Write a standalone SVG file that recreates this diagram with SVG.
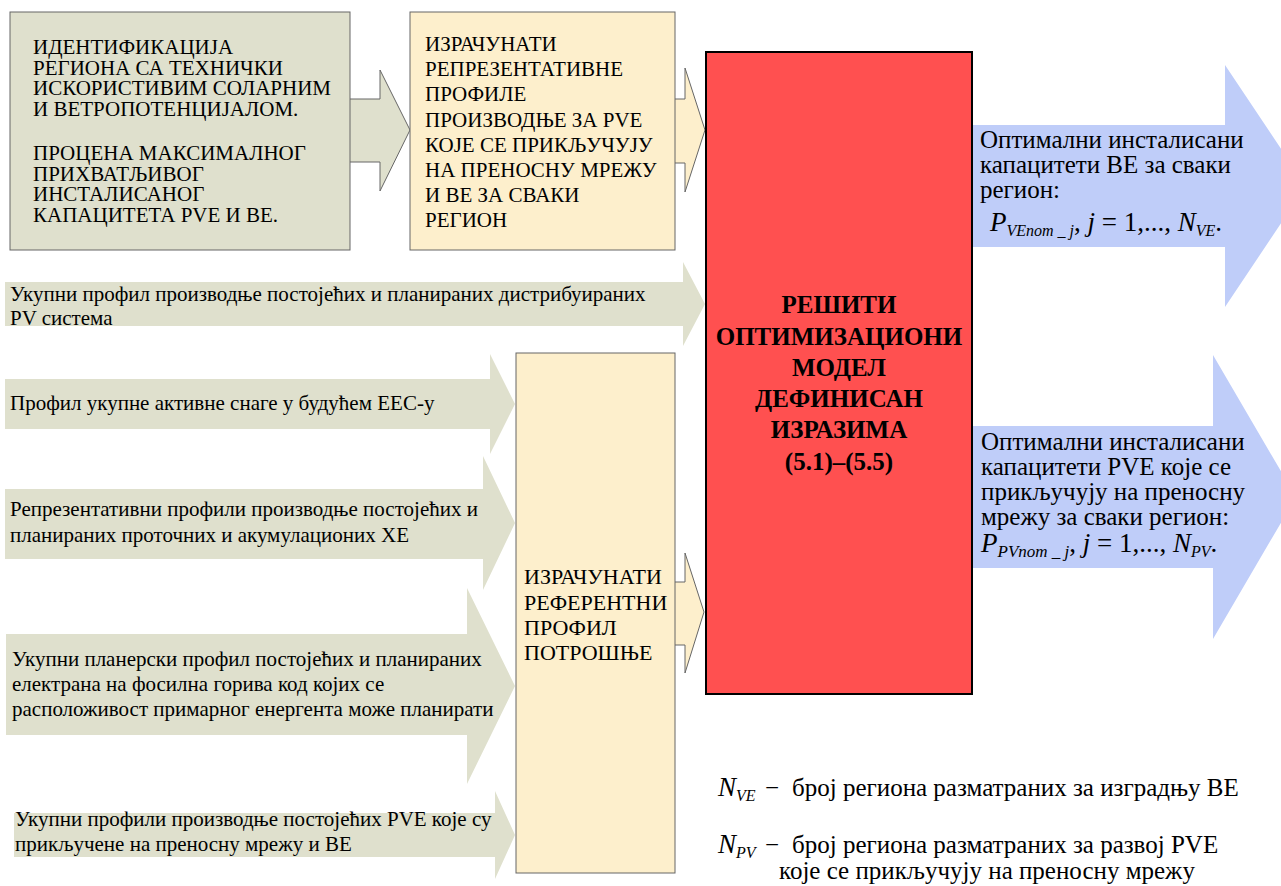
<svg xmlns="http://www.w3.org/2000/svg" width="1281" height="886" viewBox="0 0 1281 886">
<style>
text{font-family:'Liberation Serif','DejaVu Serif',serif;fill:#000}
.t21{font-size:21px}
.t22{font-size:22px}
.t25{font-size:25px}
.bold{font-size:25px;font-weight:bold}
.gray{fill:#dfe0cd}
.beige{fill:#fdefcc}
.blue{fill:#bfcdf9}
.edge{fill:none;stroke:#666;stroke-width:1}
.it{font-style:italic}
</style>
<g font-family="Liberation Serif, DejaVu Serif, serif">
<g id="connectors">
<g id="arrow-pv-dist"><polygon class="gray" points="5,282 683,282 683,262 705,304 683,346 683,326 5,326"/>
<text class="t21" x="10" y="301">Укупни профил производње постојећих и планираних дистрибуираних</text>
<text class="t21" x="10" y="325">PV система</text></g>
<g id="arrow-load"><polygon class="gray" points="5,379 490,379 490,354 515,404 490,454 490,429 5,429"/>
<text class="t21" x="10" y="410">Профил укупне активне снаге у будућем ЕЕС-у</text></g>
<g id="arrow-hydro"><polygon class="gray" points="5,489 483,489 483,456 515,523 483,590 483,559 5,559"/>
<text class="t21" x="10" y="516">Репрезентативни профили производње постојећих и</text>
<text class="t21" x="10" y="542">планираних проточних и акумулационих ХЕ</text></g>
<g id="arrow-fossil"><polygon class="gray" points="6,634 467,634 467,588 515,686 467,784 467,735 6,735"/>
<text class="t21" x="12" y="666">Укупни планерски профил постојећих и планираних</text>
<text class="t21" x="12" y="691">електрана на фосилна горива код којих се</text>
<text class="t21" x="12" y="716">расположивост примарног енергента може планирати</text></g>
<g id="arrow-pve"><polygon class="gray" points="14,813 495,813 495,791 515,835 495,879 495,857 14,857"/>
<text class="t21" x="15" y="826">Укупни профили производње постојећих PVE које су</text>
<text class="t21" x="15" y="851">прикључене на преносну мрежу и ВЕ</text></g>
<g id="arrow-box1"><polygon class="gray" points="350,99 380,99 380,70 410,130 380,191 380,162 350,162"/>
<polyline class="edge" points="350,99 380,99 380,70 410,130 380,191 380,162 350,162"/></g>
<g id="arrow-box2"><polygon class="beige" points="675,99 685,99 685,68 705,130 685,192 685,163 675,163"/>
<polyline class="edge" points="675,99 685,99 685,68 705,130 685,192 685,163 675,163"/></g>
<g id="arrow-box3"><polygon class="beige" points="675,582 685,582 685,553 704,612 685,673 685,645 675,645"/>
<polyline class="edge" points="675,582 685,582 685,553 704,612 685,673 685,645 675,645"/></g>
</g>
<g id="node-identify">
<rect x="10" y="12" width="340" height="238" class="gray" stroke="#666" stroke-width="1"/>
<text class="t21" x="33" y="54">ИДЕНТИФИКАЦИЈА</text>
<text class="t21" x="33" y="75">РЕГИОНА СА ТЕХНИЧКИ</text>
<text class="t21" x="33" y="95">ИСКОРИСТИВИМ СОЛАРНИМ</text>
<text class="t21" x="33" y="116">И ВЕТРОПОТЕНЦИЈАЛОМ.</text>
<text class="t21" x="33" y="160">ПРОЦЕНА МАКСИМАЛНОГ</text>
<text class="t21" x="33" y="181">ПРИХВАТЉИВОГ</text>
<text class="t21" x="33" y="201">ИНСТАЛИСАНОГ</text>
<text class="t21" x="33" y="222">КАПАЦИТЕТА PVE И ВЕ.</text>
</g>
<g id="node-profiles">
<rect x="410" y="12" width="265" height="238" class="beige" stroke="#666" stroke-width="1"/>
<text class="t21" x="425" y="51">ИЗРАЧУНАТИ</text>
<text class="t21" x="425" y="76">РЕПРЕЗЕНТАТИВНЕ</text>
<text class="t21" x="425" y="101">ПРОФИЛЕ</text>
<text class="t21" x="425" y="127">ПРОИЗВОДЊЕ ЗА PVE</text>
<text class="t21" x="425" y="152">КОЈЕ СЕ ПРИКЉУЧУЈУ</text>
<text class="t21" x="425" y="177">НА ПРЕНОСНУ МРЕЖУ</text>
<text class="t21" x="425" y="202">И ВЕ ЗА СВАКИ</text>
<text class="t21" x="425" y="227">РЕГИОН</text>
</g>
<g id="node-consumption">
<rect x="516" y="353" width="159" height="520" class="beige" stroke="#666" stroke-width="1"/>
<text class="t22" x="524" y="584">ИЗРАЧУНАТИ</text>
<text class="t22" x="524" y="610">РЕФЕРЕНТНИ</text>
<text class="t22" x="524" y="635">ПРОФИЛ</text>
<text class="t22" x="524" y="660">ПОТРОШЊЕ</text>
</g>
<g id="node-out-ve">
<polygon class="blue" points="972,125 1225,125 1225,65 1306,186 1225,307 1225,247 972,247"/>
<text class="t25" x="980" y="148">Оптимални инсталисани</text>
<text class="t25" x="980" y="173">капацитети ВЕ за сваки</text>
<text class="t25" x="980" y="198">регион:</text>
<text x="990" y="231" font-size="27"><tspan class="it">P</tspan><tspan class="it" font-size="16" dy="5">VEnom _ j</tspan><tspan dy="-5">, </tspan><tspan class="it">j</tspan><tspan> = 1,..., </tspan><tspan class="it">N</tspan><tspan class="it" font-size="16" dy="5">VE</tspan><tspan dy="-5">.</tspan></text>
</g>
<g id="node-out-pve">
<polygon class="blue" points="972,426 1213,426 1213,355 1296,497 1213,639 1213,568 972,568"/>
<text class="t25" x="981" y="450">Оптимални инсталисани</text>
<text class="t25" x="981" y="475">капацитети PVE које се</text>
<text class="t25" x="981" y="500">прикључују на преносну</text>
<text class="t25" x="981" y="525">мрежу за сваки регион:</text>
<text x="981" y="552" font-size="27"><tspan class="it">P</tspan><tspan class="it" font-size="17" dy="5">PVnom _ j</tspan><tspan dy="-5">, </tspan><tspan class="it">j</tspan><tspan> = 1,..., </tspan><tspan class="it">N</tspan><tspan class="it" font-size="16" dy="5">PV</tspan><tspan dy="-5">.</tspan></text>
</g>
<g id="node-solve">
<rect x="706" y="52" width="266" height="642" fill="#ff5050" stroke="#000" stroke-width="2"/>
<text class="bold" x="839" y="313" text-anchor="middle">РЕШИТИ</text>
<text class="bold" x="839" y="345" text-anchor="middle">ОПТИМИЗАЦИОНИ</text>
<text class="bold" x="839" y="376" text-anchor="middle">МОДЕЛ</text>
<text class="bold" x="839" y="407" text-anchor="middle">ДЕФИНИСАН</text>
<text class="bold" x="839" y="438" text-anchor="middle">ИЗРАЗИМА</text>
<text class="bold" x="839" y="470" text-anchor="middle">(5.1)–(5.5)</text>
</g>
<g id="legend">
<text x="718" y="796" font-size="27"><tspan class="it">N</tspan><tspan class="it" font-size="16" dy="5">VE</tspan></text>
<text class="t25" x="765" y="796">−</text>
<text class="t25" x="792" y="796">број региона разматраних за изградњу ВЕ</text>
<text x="718" y="853" font-size="27"><tspan class="it">N</tspan><tspan class="it" font-size="16" dy="5">PV</tspan></text>
<text class="t25" x="765" y="853">−</text>
<text class="t25" x="792" y="853">број региона разматраних за развој PVE</text>
<text class="t25" x="779" y="879">које се прикључују на преносну мрежу</text>
</g>
</g>
</svg>
